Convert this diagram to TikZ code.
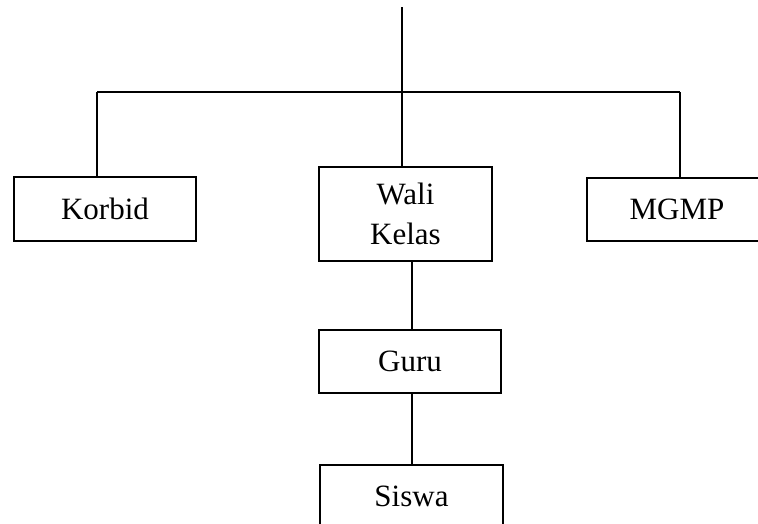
\documentclass[tikz,border=0pt]{standalone}
\usepackage{fontspec}
\setmainfont{Liberation Serif}
\begin{document}
\begin{tikzpicture}[x=1pt,y=-1pt,
  box/.style={draw,line width=1.6pt,rectangle,inner sep=0pt,align=center,
    font=\fontsize{31}{40}\selectfont},
  conn/.style={line width=1.6pt}]
\useasboundingbox (0,0) rectangle (758,523);
\clip (0,0) rectangle (758,523);
\node[box,minimum width=182pt,minimum height=64pt] (korbid) at (105,209) {Korbid};
\node[box,minimum width=173pt,minimum height=94pt] (wali) at (405.5,214) {Wali\\Kelas};
\node[box,minimum width=180pt,minimum height=63pt] (mgmp) at (677,209.5) {MGMP};
\node[box,minimum width=182pt,minimum height=63pt] (guru) at (410,361.5) {Guru};
\node[box,minimum width=183pt,minimum height=63pt] (siswa) at (411.5,496.5) {Siswa};
\coordinate (top) at (402,7);
\coordinate (j) at (402,92);
\coordinate (kj) at (97,92);
\coordinate (mj) at (680,92);
\coordinate (lx) at (412,0);
\draw[conn] (top) -- (j);
\draw[conn] (kj) -- (mj);
\draw[conn] (kj) -- (kj |- korbid.north);
\draw[conn] (mj) -- (mj |- mgmp.north);
\draw[conn] (j) -- (j |- wali.north);
\draw[conn] (lx |- wali.south) -- (lx |- guru.north);
\draw[conn] (lx |- guru.south) -- (lx |- siswa.north);
\end{tikzpicture}
\end{document}
